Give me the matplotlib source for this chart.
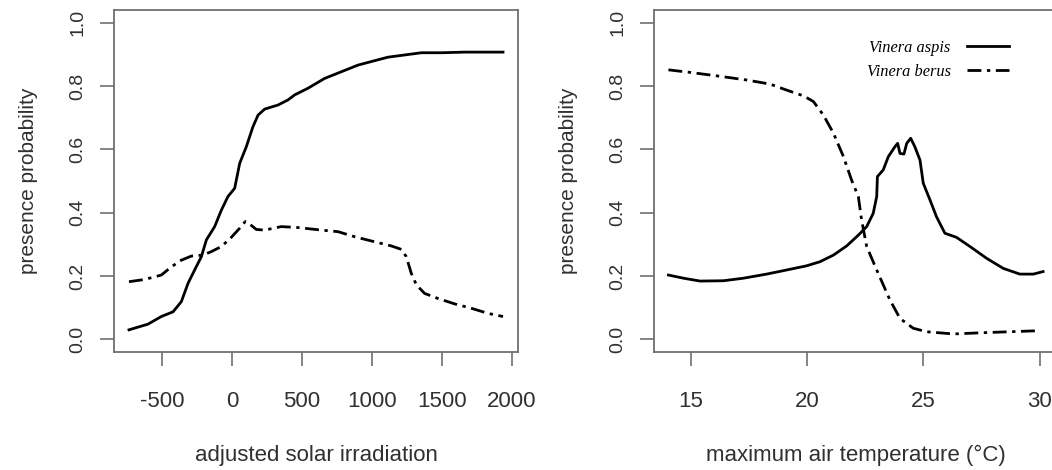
import matplotlib
matplotlib.use("Agg")
import matplotlib.pyplot as plt

# ---- data ----
solar_aspis_x = [-736, -600, -505, -421, -362, -314, -267, -219, -183, -124, -76, -29, 19, 55, 102,
                 150, 186, 233, 329, 400, 448, 543, 662, 781, 900, 1019, 1114, 1233, 1352, 1495, 1662, 1936]
solar_aspis_y = [0.030, 0.048, 0.072, 0.087, 0.119, 0.177, 0.219, 0.261, 0.314, 0.356, 0.408, 0.451, 0.477,
                 0.556, 0.608, 0.672, 0.708, 0.727, 0.740, 0.756, 0.772, 0.793, 0.824, 0.845, 0.866, 0.880,
                 0.891, 0.898, 0.905, 0.905, 0.907, 0.907]

solar_berus_x = [-736, -624, -505, -433, -362, -290, -207, -148, -76, -5, 55, 95, 126, 174, 233, 352, 471,
                 638, 757, 876, 1019, 1138, 1210, 1245, 1281, 1317, 1376, 1471, 1590, 1710, 1829, 1936]
solar_berus_y = [0.182, 0.189, 0.203, 0.229, 0.250, 0.263, 0.266, 0.277, 0.293, 0.322, 0.351, 0.372, 0.364,
                 0.347, 0.345, 0.356, 0.353, 0.345, 0.340, 0.324, 0.308, 0.295, 0.284, 0.261, 0.208, 0.172,
                 0.145, 0.129, 0.112, 0.098, 0.082, 0.072]

temp_aspis_x = [14.04, 14.69, 15.40, 16.40, 17.26, 18.26, 19.12, 19.97, 20.55, 21.13, 21.70, 22.20, 22.56,
                22.84, 22.99, 23.02, 23.27, 23.49, 23.77, 23.89, 23.99, 24.16, 24.28, 24.45, 24.63, 24.85,
                24.99, 25.28, 25.56, 25.92, 26.42, 27.00, 27.71, 28.43, 29.14, 29.72, 30.14]
temp_aspis_y = [0.203, 0.193, 0.184, 0.185, 0.193, 0.206, 0.219, 0.232, 0.245, 0.266, 0.295, 0.329, 0.356,
                0.398, 0.451, 0.514, 0.535, 0.577, 0.608, 0.619, 0.587, 0.585, 0.619, 0.635, 0.608, 0.566,
                0.493, 0.440, 0.387, 0.335, 0.322, 0.293, 0.256, 0.224, 0.206, 0.206, 0.214]

temp_berus_x = [14.04, 14.97, 16.12, 17.40, 18.41, 19.12, 19.84, 20.27, 20.70, 21.13, 21.56, 21.91, 22.20,
                22.34, 22.56, 22.99, 23.56, 23.99, 24.56, 25.13, 26.28, 27.57, 28.71, 29.86]
temp_berus_y = [0.851, 0.843, 0.832, 0.819, 0.806, 0.787, 0.769, 0.751, 0.708, 0.651, 0.577, 0.503, 0.451,
                0.377, 0.293, 0.219, 0.124, 0.066, 0.035, 0.024, 0.017, 0.021, 0.024, 0.027]

solar_ticks = [-500, 0, 500, 1000, 1500, 2000]
temp_ticks = [15, 20, 25, 30]
prob_ticks = [0.0, 0.2, 0.4, 0.6, 0.8, 1.0]
prob_labels = ["0.0", "0.2", "0.4", "0.6", "0.8", "1.0"]
species = ["Vinera aspis", "Vinera berus"]

# ---- figure ----
plt.rcParams['font.family'] = ['Liberation Sans', 'DejaVu Sans']
W, H = 1052, 470
fig = plt.figure(figsize=(W / 100, H / 100), dpi=100)

TXT = "#303030"
FRAME = "#707070"
DASH = (0, (5, 2, 1.2, 2))


def px_axes(x0, x1, ytop, ybot):
    return fig.add_axes([x0 / W, 1 - ybot / H, (x1 - x0) / W, (ybot - ytop) / H])


def style(ax, xticks, xlabel, xlim):
    ax.set_xlim(*xlim)
    ax.set_ylim(-0.04, 1.04)
    ax.set_xticks(xticks)
    ax.set_xticklabels([str(t) for t in xticks], fontsize=16, color=TXT)
    ax.set_yticks(prob_ticks)
    ax.set_yticklabels(prob_labels, fontsize=14, color=TXT, rotation=90, va="center")
    ax.tick_params(axis="both", direction="out", length=10, width=1.2, color=FRAME)
    ax.tick_params(axis="x", pad=18)
    ax.tick_params(axis="y", pad=10)
    for s in ax.spines.values():
        s.set_color(FRAME)
        s.set_linewidth(1.3)
    ax.set_xlabel(xlabel, fontsize=16, color=TXT, labelpad=24)
    ax.set_ylabel("presence probability", fontsize=15, color=TXT, labelpad=22.5)


ax1 = px_axes(114, 518, 10, 352)
ax1.plot(solar_aspis_x, solar_aspis_y, color="black", lw=2.0, solid_joinstyle="round")
ax1.plot(solar_berus_x, solar_berus_y, color="black", lw=2.0, linestyle=DASH)
style(ax1, solar_ticks, "adjusted solar irradiation", (-843, 2043))

ax2 = px_axes(654, 1058, 10, 352)
l1, = ax2.plot(temp_aspis_x, temp_aspis_y, color="black", lw=2.0, solid_joinstyle="round", label=species[0])
l2, = ax2.plot(temp_berus_x, temp_berus_y, color="black", lw=2.0, linestyle=DASH, label=species[1])
style(ax2, temp_ticks, "maximum air temperature (°C)", (13.42, 30.78))

ax2.legend(handles=[l1, l2], loc="upper right", bbox_to_anchor=(0.915, 0.956),
           frameon=False, markerfirst=False, handlelength=2.56, handletextpad=1.0,
           labelspacing=0.5, prop={"family": "Liberation Serif", "style": "italic", "size": 11.8})

fig.savefig("out.png", dpi=100)
